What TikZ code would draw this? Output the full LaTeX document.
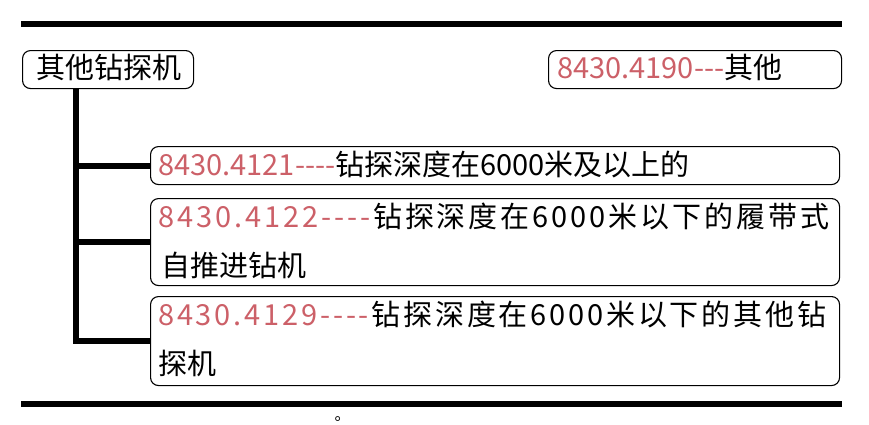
\documentclass[tikz,border=0pt]{standalone}
\usepackage{fontspec}
\setmainfont{Noto Sans CJK SC}
\usetikzlibrary{calc}
\definecolor{codered}{RGB}{204,96,104}
\def\spreadchars#1{\ifx#1\relax\else#1\hfil\expandafter\spreadchars\fi}
\tikzset{
  box/.style={draw=black, line width=1.1pt, rounded corners=8pt, rectangle, inner sep=0pt, anchor=north west},
  txt/.style={anchor=base west, inner sep=0pt, font=\fontsize{29}{34}\selectfont},
  trunk/.style={line width=6pt, draw=black},
  rule/.style={line width=6pt, draw=black}
}
\begin{document}
\begin{tikzpicture}[x=1pt,y=-1pt]
\useasboundingbox (0,0) rectangle (869,424);
% rules
\draw[rule] (21,24) -- (842,24);
\draw[rule] (21,404) -- (842,404);
% boxes
\node[box, minimum width=171pt, minimum height=38pt] (root) at (22,50) {};
\node[box, minimum width=293pt, minimum height=38pt] (other) at (548,50) {};
\node[box, minimum width=689pt, minimum height=38pt] (b1) at (150,146) {};
\node[box, minimum width=689pt, minimum height=87pt] (b2) at (150,198) {};
\node[box, minimum width=689pt, minimum height=89pt] (b3) at (150,296) {};
% texts
\node[txt] (troot) at (36,78) {其他钻探机};
\node[txt] (tother) at (557,78) {\textcolor{codered}{8430.4190-{}-{}-}其他};
\node[txt] (tb1) at (158,175) {\textcolor{codered}{8430.4121-{}-{}-{}-}钻探深度在6000米及以上的};
\node[txt] (tb2a) at (158,227) {\hbox to 671pt{\textcolor{codered}{\spreadchars 8430.4122----\relax}\spreadchars 钻探深度在6000米以下的履带式\relax\unskip}};
\node[txt] (tb2b) at (161,276) {自推进钻机};
\node[txt] (tb3a) at (158,325) {\hbox to 668pt{\textcolor{codered}{\spreadchars 8430.4129----\relax}\spreadchars 钻探深度在6000米以下的其他钻\relax\unskip}};
\node[txt] (tb3b) at (158,374) {探机};
\node[anchor=base west, inner sep=0pt, font=\fontsize{16}{18}\selectfont] (stop) at (334.5,420.5) {。};
% connectors
\coordinate (t0) at ($(root.south west)+(54,0)$);
\draw[trunk] (t0) |- (b3.west);
\draw[trunk] (t0 |- b1.west) -- (b1.west);
\draw[trunk] (t0 |- b2.west) -- (b2.west);
\end{tikzpicture}
\end{document}
